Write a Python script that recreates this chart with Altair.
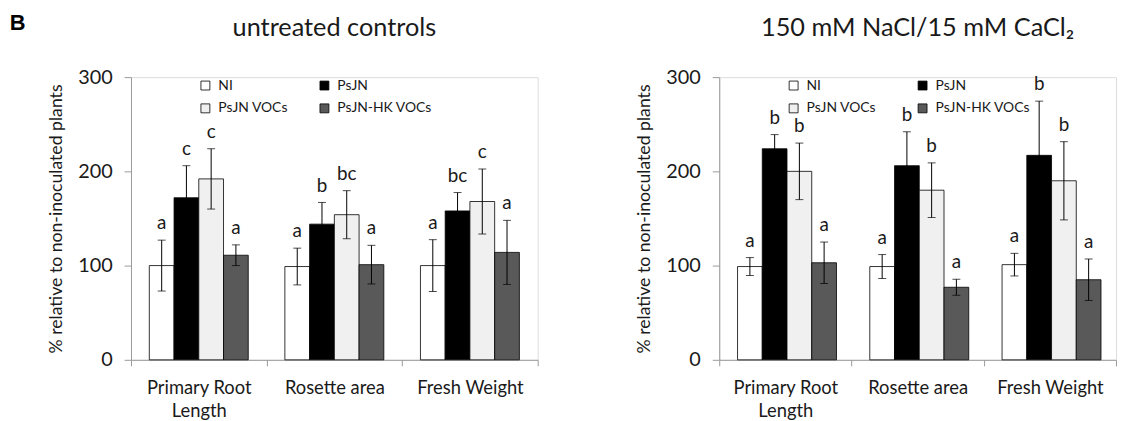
import altair as alt
import pandas as pd

categories = ["Primary Root Length", "Rosette area", "Fresh Weight"]
treatments = ["NI", "PsJN", "PsJN VOCs", "PsJN-HK VOCs"]
colors = ["#ffffff", "#000000", "#f0f0f0", "#595959"]

ctrl_mean = [100, 172, 192, 111, 99, 144, 154, 101, 100, 158, 168, 114]
ctrl_err = [27, 34, 32, 11, 19.5, 23, 25.5, 20.5, 27.5, 19.5, 34.5, 34]
ctrl_letters = ["a", "c", "c", "a", "a", "b", "bc", "a", "a", "bc", "c", "a"]

salt_mean = [99, 224, 200, 103, 99, 206, 180, 77, 101, 217, 190, 85]
salt_err = [9.5, 15, 30, 22, 12.7, 36, 29, 8.5, 12, 57.5, 41.5, 22]
salt_letters = ["a", "b", "b", "a", "a", "b", "b", "a", "a", "b", "b", "a"]

FONT = "Lato"
TXT = "#1a1a1a"
AX = "#9a9a9a"


def panel(mean, err, letters, title, col_pad, width):
    df = pd.DataFrame({
        "cat": [c for c in categories for _ in treatments],
        "trt": treatments * len(categories),
        "mean": mean,
        "err": err,
        "letter": letters,
    })
    df["lo"] = df["mean"] - df["err"]
    df["hi"] = df["mean"] + df["err"]

    x = alt.X(
        "cat:N", sort=categories, title=None,
        scale=alt.Scale(paddingInner=0, paddingOuter=0),
        axis=alt.Axis(
            labelExpr="datum.label == 'Primary Root Length' ? ['Primary Root', 'Length'] : datum.label",
            labelAngle=0, labelFontSize=18.5, labelColor=TXT, labelFont=FONT,
            labelPadding=13, labelLineHeight=23,
            tickBand="extent", tickSize=6, tickColor=AX, domainColor=AX,
        ),
    )
    xo = alt.XOffset("trt:N", sort=treatments,
                     scale=alt.Scale(paddingInner=0, paddingOuter=0.74))
    base = alt.Chart(df).encode(x=x, xOffset=xo)

    bars = base.mark_bar(stroke="#000000", strokeWidth=0.8).encode(
        y=alt.Y(
            "mean:Q", scale=alt.Scale(domain=[0, 300]),
            title="% relative to non-inoculated plants",
            axis=alt.Axis(
                values=[0, 100, 200, 300], grid=False, tickSize=7, tickColor=AX,
                domainColor=AX, labelFontSize=20, labelColor=TXT, labelFont=FONT,
                labelPadding=12, titleFontSize=17.8, titleFontWeight="normal",
                titleColor=TXT, titleFont=FONT, titlePadding=12,
            ),
        ),
        color=alt.Color(
            "trt:N", sort=treatments,
            scale=alt.Scale(domain=treatments, range=colors),
            legend=alt.Legend(
                title=None, orient="none", legendX=68, legendY=1.5, columns=2,
                direction="horizontal",
                columnPadding=col_pad, rowPadding=9, padding=0,
                symbolType="square", symbolSize=81, symbolStrokeColor="#000000",
                symbolStrokeWidth=0.8, symbolOpacity=1, labelFontSize=14,
                labelFont=FONT, labelColor=TXT, labelOffset=6,
            ),
        ),
    )
    rules = base.mark_rule(color="#000000", strokeWidth=1).encode(
        y="lo:Q", y2="hi:Q")
    cap_lo = base.mark_tick(color="#000000", thickness=1, size=8).encode(y="lo:Q")
    cap_hi = base.mark_tick(color="#000000", thickness=1, size=8).encode(y="hi:Q")
    text = base.mark_text(
        dy=-11, baseline="alphabetic", fontSize=19, font=FONT, color=TXT
    ).encode(y="hi:Q", text="letter:N")

    return alt.layer(bars, rules, cap_lo, cap_hi, text).properties(
        width=width, height=285,
        title=alt.TitleParams(
            title, fontSize=25.5, font=FONT, fontWeight="normal", color=TXT,
            anchor="middle", offset=25.5, frame="group",
        ),
    )


left = panel(ctrl_mean, ctrl_err, ctrl_letters, "untreated controls", 29, 410)
right = panel(salt_mean, salt_err, salt_letters, "150 mM NaCl/15 mM CaCl\u2082", 39, 400)

chart = alt.hconcat(left, right, spacing=97).resolve_scale(
    color="independent"
).resolve_legend(color="independent").properties(
    title=alt.TitleParams(
        "B", anchor="start", fontSize=22, font="Liberation Sans",
        fontWeight="bold", color="#000000", offset=-20, dx=-38, dy=-1,
    ),
    padding={"left": 1, "top": 2, "right": 0, "bottom": 0},
).configure_view(stroke=None).configure(font=FONT)

chart.save("out.html", embed_options={"renderer": "svg", "actions": False})
